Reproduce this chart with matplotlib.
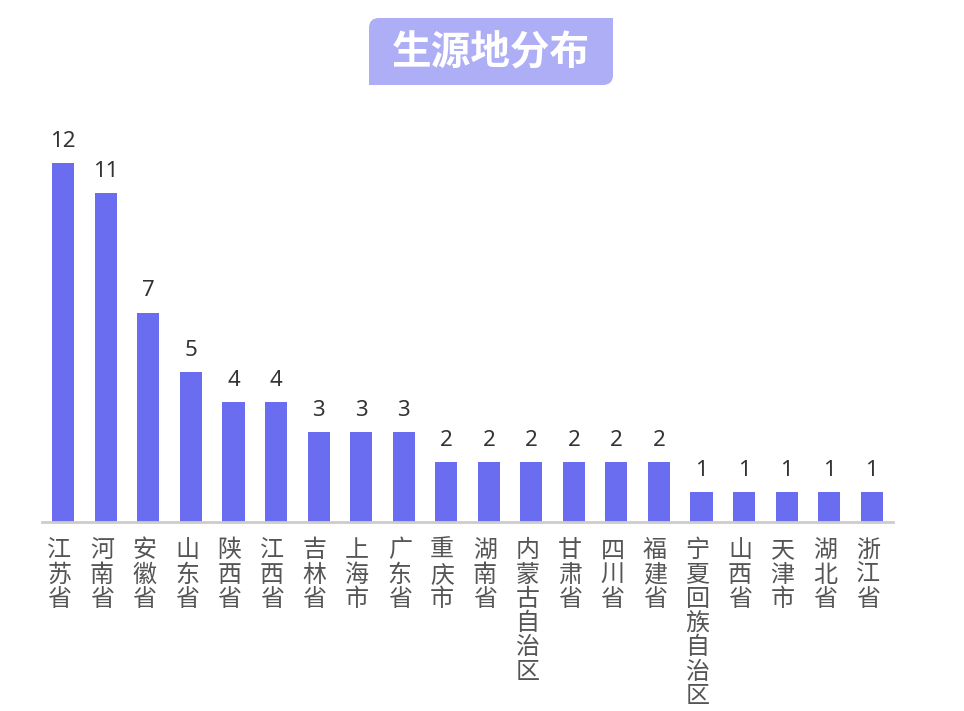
import matplotlib.pyplot as plt
import matplotlib.transforms as mtransforms
from matplotlib.patches import FancyBboxPatch, Rectangle
import numpy as np

plt.rcParams['font.family'] = ['Noto Sans CJK SC', 'DejaVu Sans']

provinces = ["江苏省", "河南省", "安徽省", "山东省", "陕西省", "江西省", "吉林省",
             "上海市", "广东省", "重庆市", "湖南省", "内蒙古自治区", "甘肃省",
             "四川省", "福建省", "宁夏回族自治区", "山西省", "天津市", "湖北省",
             "浙江省"]
counts = [12, 11, 7, 5, 4, 4, 3, 3, 3, 2, 2, 2, 2, 2, 2, 1, 1, 1, 1, 1]
title = "生源地分布"

W, H = 964, 711
fig = plt.figure(figsize=(W / 100, H / 100), dpi=100)

# axes placed in pixel terms: x 42..893, baseline at y=522
ax = fig.add_axes([42 / W, (H - 522) / H, (893 - 42) / W, 389 / H])
x = np.arange(len(provinces))
ax.bar(x, counts, width=0.52, color='#6b6df1', zorder=2)
ax.set_xlim(-0.5, len(provinces) - 0.5)
ax.set_ylim(0, 13)
for s in ['top', 'right', 'left']:
    ax.spines[s].set_visible(False)
ax.spines['bottom'].set_color('#cccccc')
ax.spines['bottom'].set_linewidth(2)
ax.set_yticks([])
ax.set_xticks(x)
ax.set_xticklabels(["\n".join(p) for p in provinces], fontsize=17.3,
                   color='#555555', linespacing=0.915, va='top')
ax.tick_params(axis='x', length=0, pad=11)
shift = mtransforms.ScaledTranslation(-4 / 100, 0, fig.dpi_scale_trans)
for lbl in ax.get_xticklabels():
    lbl.set_transform(lbl.get_transform() + shift)

for xi, c in zip(x, counts):
    ax.annotate(str(c), (xi, c), xytext=(0, 8), textcoords='offset points',
                ha='center', va='bottom', fontsize=16, color='#333333',
                family=['Noto Sans', 'DejaVu Sans'])

# title box in pixel coordinates: top-left and bottom-right corners rounded
bg = fig.add_axes([0, 0, 1, 1], zorder=-1)
bg.set_xlim(0, W)
bg.set_ylim(H, 0)
bg.axis('off')
bx0, by0, bw, bh, r = 369, 18, 244, 67, 10
tcol = '#aeaef6'
bg.add_patch(FancyBboxPatch((bx0, by0), bw, bh,
                            boxstyle='round,pad=0,rounding_size=%d' % r,
                            fc=tcol, ec='none'))
bg.add_patch(Rectangle((bx0 + bw - 2 * r, by0), 2 * r, 2 * r, fc=tcol, ec='none'))
bg.add_patch(Rectangle((bx0, by0 + bh - 2 * r), 2 * r, 2 * r, fc=tcol, ec='none'))
bg.text(bx0 + bw / 2, by0 + bh / 2 + 1, title, ha='center', va='center',
        fontsize=28.5, fontweight='bold', color='white')

fig.savefig('out.png', dpi=100)
